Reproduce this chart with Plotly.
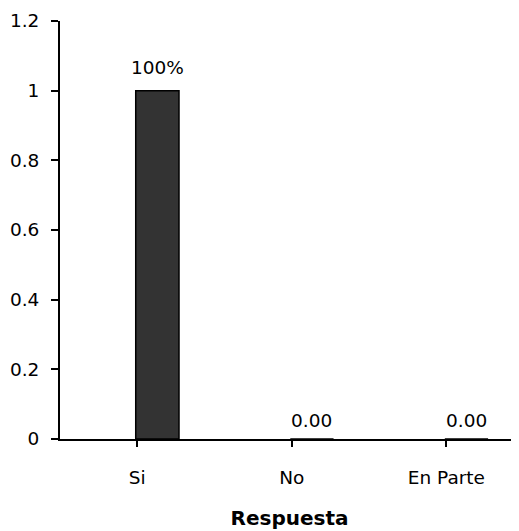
import plotly.graph_objects as go

categories = ["Si", "No", "En Parte"]
values = [1.0, 0.0, 0.0]
labels = ["100%", "0.00", "0.00"]
y_ticks = [0, 0.2, 0.4, 0.6, 0.8, 1, 1.2]
y_tick_text = ["0", "0.2", "0.4", "0.6", "0.8", "1", "1.2"]
x_title = "Respuesta"

FONT = "DejaVu Sans, Verdana, sans-serif"

fig = go.Figure()
fig.add_trace(go.Bar(
    x=list(range(len(categories))),
    y=values,
    width=0.28,
    offset=-0.01,
    marker=dict(color="#333333", line=dict(color="#000000", width=1.5)),
    hoverinfo="skip",
))

for i, (v, t) in enumerate(zip(values, labels)):
    fig.add_annotation(
        x=i + 0.13, y=v, text=t, showarrow=False,
        xref="x", yref="y", yanchor="bottom", yshift=11 if v > 0 else 6,
        font=dict(family=FONT, size=18.5, color="#000000"),
    )

fig.update_layout(
    width=511, height=523,
    margin=dict(l=52, r=0, t=13, b=92),
    paper_bgcolor="white", plot_bgcolor="white",
    showlegend=False,
    font=dict(family=FONT, size=18.5, color="#000000"),
    xaxis=dict(
        range=[-0.5, 2.47],
        tickmode="array",
        tickvals=list(range(len(categories))),
        ticktext=categories,
        showgrid=False, zeroline=False,
        showline=True, linecolor="#000000", linewidth=2,
        ticks="outside", ticklen=6, tickwidth=1.5, tickcolor="#000000",
        tickson="boundaries",
        ticklabelstandoff=15,
        title=dict(text="<b>" + x_title + "</b>", standoff=24,
                   font=dict(family=FONT, size=20, color="#000000")),
        type="linear",
    ),
    yaxis=dict(
        range=[0, 1.2],
        tickmode="array",
        tickvals=y_ticks,
        ticktext=y_tick_text,
        showgrid=False, zeroline=False,
        showline=True, linecolor="#000000", linewidth=2,
        ticks="outside", ticklen=7, tickwidth=1.5, tickcolor="#000000",
        ticklabelstandoff=8,
    ),
)

fig.write_html("out.html")
